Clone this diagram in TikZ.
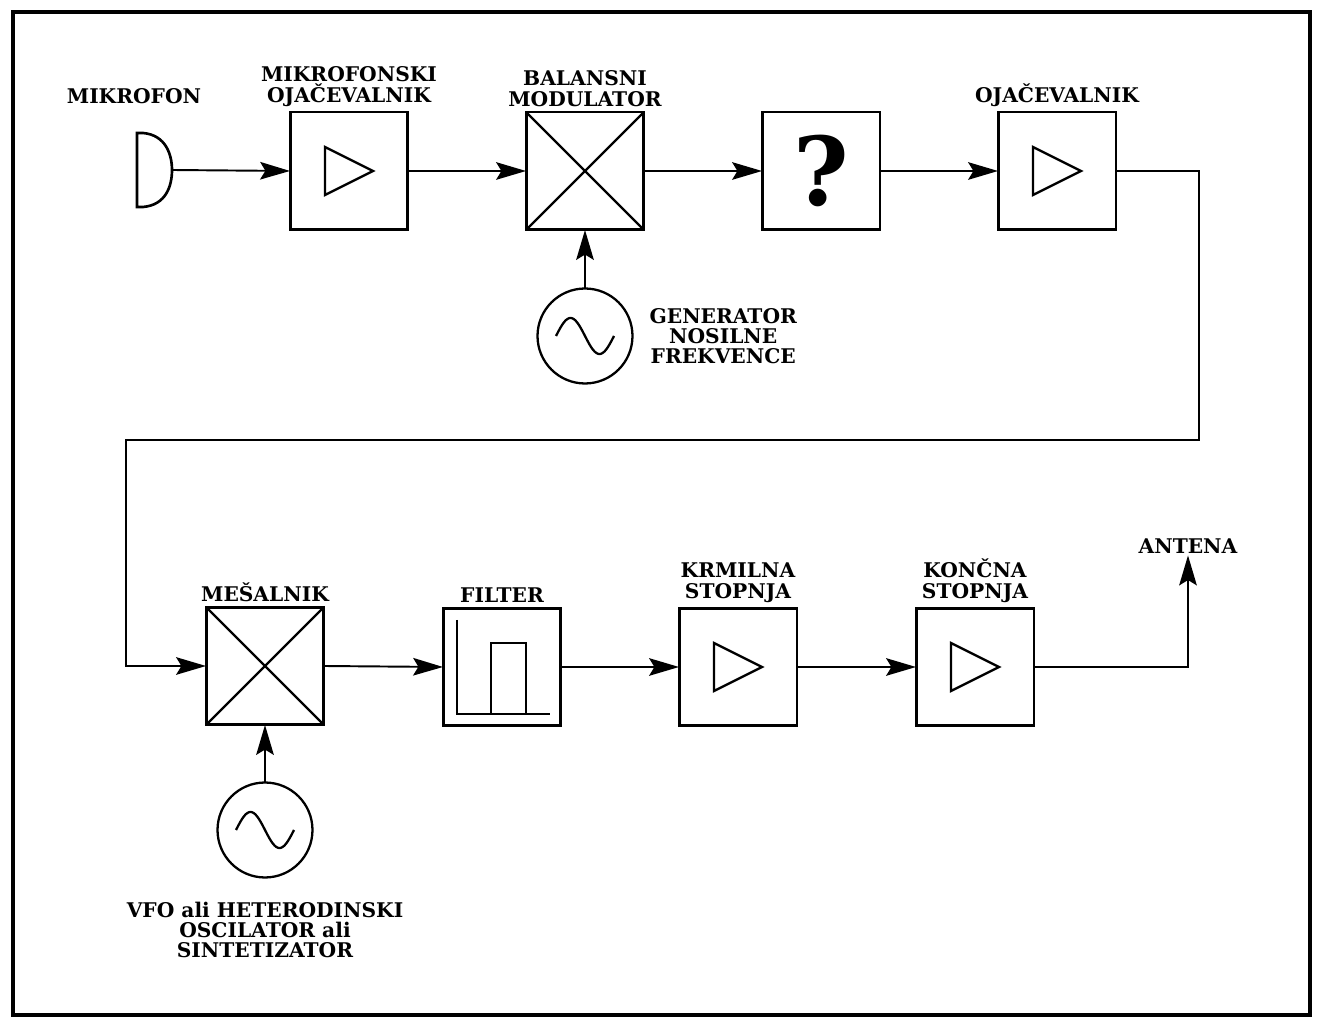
\documentclass[tikz,border=0pt]{standalone}
\usepackage{fontspec}
\setmainfont{DejaVu Serif}
\usetikzlibrary{arrows.meta,positioning}

\tikzset{
  blok/.style={draw, line width=1.7pt, minimum size=2.36cm, inner sep=0pt, outer sep=0pt},
  gen/.style={draw, circle, line width=1.3pt, minimum size=1.9cm, inner sep=0pt, outer sep=0pt},
  simbol/.style={line width=1.3pt},
  vod/.style={line width=1.1pt, -{Stealth[length=17pt,width=10pt,inset=3pt]}},
  oznaka/.style={font=\fontsize{11.5}{11.5}\selectfont\bfseries, align=center, inner sep=1pt},
}

\begin{document}
\begin{tikzpicture}[x=0.02cm, y=-0.02cm]
\useasboundingbox (0,0) rectangle (1323,1026);
\draw[line width=2.6pt] (13,12) rectangle (1310,1015);

% zgornja vrsta
\draw[line width=1.5pt] (137,207) -- (137,133) -- (143,133) .. controls (166,135) and (172,155) .. (172,170)
  .. controls (172,186) and (166,205) .. (143,207) -- cycle;
\coordinate (mik) at (172,170);
\node[blok] (mojac) at (349,171) {};
\node[blok] (bmod) at (585,171) {};
\node[blok, font=\fontsize{54}{54}\bfseries\selectfont] (vpr) at (821,171) {?};
\node[blok] (ojac) at (1057,171) {};
\node[gen] (gen1) at (585,336) {};

% spodnja vrsta
\node[blok] (mes) at (265,666) {};
\node[blok] (filt) at (502,667) {};
\node[blok] (krm) at (738,667) {};
\node[blok] (konc) at (975,667) {};
\node[gen] (gen2) at (265,830) {};

\foreach \n in {mojac,ojac,krm,konc}
  \draw[simbol] ([shift={(-24,-24)}]\n.center) -- ([shift={(24,0)}]\n.center) -- ([shift={(-24,24)}]\n.center) -- cycle;
\foreach \n in {bmod,mes}
  \draw[simbol] (\n.north west) -- (\n.south east) (\n.north east) -- (\n.south west);
\foreach \n in {gen1,gen2}
  \draw[simbol, shift={(\n.center)}] plot[domain=-180:180, samples=60, smooth] ({\x/180*29}, {18*sin(\x)});
\draw[simbol] ([shift={(-45,-47)}]filt.center) |- ([shift={(48,47)}]filt.center);
\draw[simbol] ([shift={(-11,47)}]filt.center) |- ([shift={(24,-24)}]filt.center) -- ([shift={(24,47)}]filt.center);

% napisi
\node[oznaka] (lmik) at (134,96) {MIKROFON};
\node[oznaka, above=2pt of mojac] (lmojac) {MIKROFONSKI\\OJAČEVALNIK};
\node[oznaka, above=2pt of bmod] (lbmod) {BALANSNI\\MODULATOR};
\node[oznaka, above=2pt of ojac] (lojac) {OJAČEVALNIK};
\node[oznaka, right=0.3cm of gen1] (lgen1) {GENERATOR\\NOSILNE\\FREKVENCE};
\node[oznaka, above=2pt of mes] (lmes) {MEŠALNIK};
\node[oznaka, above=2pt of filt] (lfilt) {FILTER};
\node[oznaka, above=2pt of krm] (lkrm) {KRMILNA\\STOPNJA};
\node[oznaka, above=2pt of konc] (lkonc) {KONČNA\\STOPNJA};
\node[oznaka, below=0.45cm of gen2] (lgen2) {VFO ali HETERODINSKI\\OSCILATOR ali\\SINTETIZATOR};
\node[oznaka] (lant) at (1188,546) {ANTENA};

% povezave
\coordinate (ovinek1) at (1199,440);
\coordinate (ovinek2) at (126,440);
\draw[vod] (mik) -- (mojac.west);
\draw[vod] (mojac.east) -- (bmod.west);
\draw[vod] (bmod.east) -- (vpr.west);
\draw[vod] (vpr.east) -- (ojac.west);
\draw[vod] (gen1) -- (bmod.south);
\draw[vod] (ojac.east) -| (ovinek1) -- (ovinek2) |- (mes.west);
\draw[vod] (mes.east) -- (filt.west);
\draw[vod] (filt.east) -- (krm.west);
\draw[vod] (krm.east) -- (konc.west);
\draw[vod] (gen2) -- (mes.south);
\draw[vod] (konc.east) -| (lant.south);
\end{tikzpicture}
\end{document}
